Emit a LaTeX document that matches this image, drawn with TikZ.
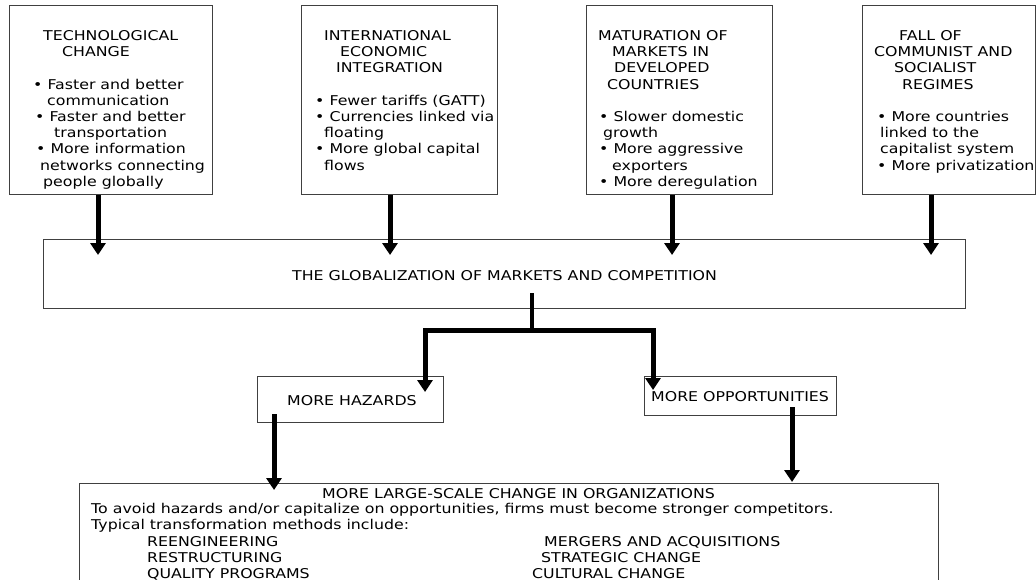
\documentclass[tikz,border=0pt]{standalone}
\usepackage{fontspec}
\setmainfont{DejaVu Sans}[FakeStretch=1.17]
\usetikzlibrary{arrows.meta}
\newcommand\tline[4]{\node[txt] (#1) at (#2,#3) {#4};}
\begin{document}
\begin{tikzpicture}[x=1pt,y=-1pt,
  box/.style={draw=black!75,line width=0.8pt,anchor=north west,inner sep=0pt},
  txt/.style={anchor=base west,inner sep=0pt,font=\fontsize{13.5}{16}\selectfont},
  arr/.style={line width=5pt,-{Triangle[width=15pt,length=12pt]}},
  thick line/.style={line width=4pt,line join=miter}]
\useasboundingbox (0,0) rectangle (1036,580);
\clip (0,0) rectangle (1036,580);
% top boxes
\node[box,minimum width=203pt,minimum height=189pt] (b1) at (9,5) {};
\node[box,minimum width=196pt,minimum height=189pt] (b2) at (301,5) {};
\node[box,minimum width=186pt,minimum height=189pt] (b3) at (586,5) {};
\node[box,minimum width=173pt,minimum height=189pt] (b4) at (862,5) {};
\node[box,minimum width=922pt,minimum height=69pt] (glob) at (43,239) {};
\node[box,minimum width=186pt,minimum height=46pt] (haz) at (257,376) {};
\node[box,minimum width=192pt,minimum height=39pt] (opp) at (644,376) {};
\node[box,minimum width=859pt,minimum height=150pt] (big) at (79,483) {};
% box 1 text
\tline{a1}{43}{40.5}{TECHNOLOGICAL}
\tline{a2}{62}{56.7}{CHANGE}
\tline{a3}{33}{89.1}{• Faster and better}
\tline{a4}{47}{105.3}{communication}
\tline{a5}{35}{121.5}{• Faster and better}
\tline{a6}{54}{137.7}{transportation}
\tline{a7}{36}{153.9}{• More information}
\tline{a8}{40}{170.1}{networks connecting}
\tline{a9}{43}{186.3}{people globally}
% box 2 text
\tline{c1}{324}{40.5}{INTERNATIONAL}
\tline{c2}{340}{56.7}{ECONOMIC}
\tline{c3}{336}{72.9}{INTEGRATION}
\tline{c4}{315}{105.3}{• Fewer tariffs (GATT)}
\tline{c5}{315}{121.5}{• Currencies linked via}
\tline{c6}{324}{137.7}{floating}
\tline{c7}{315}{153.9}{• More global capital}
\tline{c8}{324}{170.1}{flows}
% box 3 text
\tline{d1}{598}{40.5}{MATURATION OF}
\tline{d2}{612}{56.7}{MARKETS IN}
\tline{d3}{614}{72.9}{DEVELOPED}
\tline{d4}{607}{89.1}{COUNTRIES}
\tline{d5}{599}{121.5}{• Slower domestic}
\tline{d6}{603}{137.7}{growth}
\tline{d7}{599}{153.9}{• More aggressive}
\tline{d8}{612}{170.1}{exporters}
\tline{d9}{599}{186.3}{• More deregulation}
% box 4 text
\tline{e1}{899}{40.5}{FALL OF}
\tline{e2}{874}{56.7}{COMMUNIST AND}
\tline{e3}{894}{72.9}{SOCIALIST}
\tline{e4}{902}{89.1}{REGIMES}
\tline{e5}{877}{121.5}{• More countries}
\tline{e6}{880}{137.7}{linked to the}
\tline{e7}{880}{153.9}{capitalist system}
\tline{e8}{877}{170.1}{• More privatization}
% middle texts
\tline{g1}{292}{280}{THE GLOBALIZATION OF MARKETS AND COMPETITION}
\tline{h1}{287}{405}{MORE HAZARDS}
\tline{o1}{651}{401.7}{MORE OPPORTUNITIES}
% bottom box text
\tline{m1}{322}{498}{MORE LARGE-SCALE CHANGE IN ORGANIZATIONS}
\tline{m2}{91}{513}{To avoid hazards and/or capitalize on opportunities, firms must become stronger competitors.}
\tline{m3}{91}{529}{Typical transformation methods include:}
\tline{m4}{147}{546}{REENGINEERING}
\tline{m5}{147}{562}{RESTRUCTURING}
\tline{m6}{147}{578}{QUALITY PROGRAMS}
\tline{m7}{544}{546}{MERGERS AND ACQUISITIONS}
\tline{m8}{541}{562}{STRATEGIC CHANGE}
\tline{m9}{532}{578}{CULTURAL CHANGE}
% arrows from top boxes
\coordinate (t1) at (98,255);
\coordinate (t2) at (390,255);
\coordinate (t3) at (672,255);
\coordinate (t4) at (931,255);
\draw[arr] (b1.south -| t1) -- (t1);
\draw[arr] (b2.south -| t2) -- (t2);
\draw[arr] (b3.south -| t3) -- (t3);
\draw[arr] (b4.south -| t4) -- (t4);
% split
\coordinate (sp) at (532,293);
\coordinate (jn) at (532,330);
\coordinate (t5) at (425,392);
\coordinate (t6) at (653,390);
\draw[line width=3.5pt] (sp) -- (jn);
\draw[arr,line join=miter] (jn) -| (t5);
\draw[arr,line join=miter] (jn) -| (t6);
% lower arrows
\coordinate (s7) at (274,414);
\coordinate (t7) at (274,490);
\coordinate (s8) at (792,407);
\coordinate (t8) at (792,482);
\draw[arr] (s7) -- (t7);
\draw[arr] (s8) -- (t8);
\end{tikzpicture}
\end{document}
